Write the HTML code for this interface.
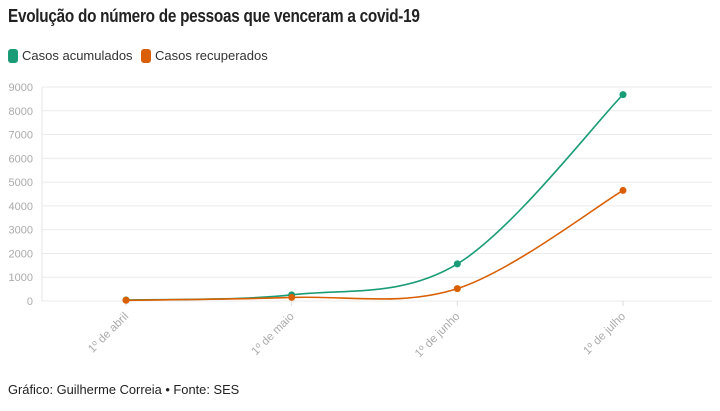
<!DOCTYPE html>
<html><head><meta charset="utf-8"><style>
body{margin:0;background:#fff;font-family:"Liberation Sans",sans-serif;}
#wrap{position:relative;width:720px;height:411px;overflow:hidden;}
h1{position:absolute;left:8px;top:6px;margin:0;font-size:18px;font-weight:bold;color:#222;letter-spacing:-0.3px;transform:scaleX(0.85);transform-origin:left;white-space:nowrap;}
.leg{position:absolute;top:48px;font-size:13px;color:#333;display:flex;align-items:center;}
.sw{width:10px;height:14px;border-radius:3px;margin-right:4px;display:inline-block;}
.foot{position:absolute;left:8px;top:382px;font-size:13px;color:#222;transform:scaleX(0.99);transform-origin:left;white-space:nowrap;}
</style></head><body>
<div id="wrap">
<h1>Evolução do número de pessoas que venceram a covid-19</h1>
<div class="leg" style="left:8px"><span class="sw" style="background:#1a9c77"></span>Casos acumulados</div>
<div class="leg" style="left:141px"><span class="sw" style="background:#d95f02"></span>Casos recuperados</div>
<svg id="chart" width="720" height="411" style="position:absolute;left:0;top:0"></svg>
<div class="foot">Gráfico: Guilherme Correia • Fonte: SES</div>
</div>
<script>
const categories=["1º de abril","1º de maio","1º de junho","1º de julho"];
const acumulados=[40,260,1560,8680];
const recuperados=[30,150,520,4650];
const yTicks=[0,1000,2000,3000,4000,5000,6000,7000,8000,9000];
const svg=document.getElementById('chart');
const NS="http://www.w3.org/2000/svg";
const x0=42,x1=712,yBase=301,yTop=87,yMax=9000;
const xs=i=>126+i*(623-126)/(categories.length-1);
const ys=v=>yBase-(v/yMax)*(yBase-yTop);
function mk(t,a){const e=document.createElementNS(NS,t);for(const k in a)e.setAttribute(k,a[k]);svg.appendChild(e);return e;}
yTicks.forEach(t=>{
 const l=mk('line',{x1:x0,x2:x1,y1:ys(t),y2:ys(t),stroke:'#ebebeb','stroke-width':1});
 
 
 const tx=mk('text',{x:33,y:ys(t)+4,'text-anchor':'end','font-size':11,fill:'#aaa'});
 tx.textContent=t;
 
 
});
const ax=mk('line',{x1:x0,x2:x0,y1:yTop,y2:yBase,stroke:'#e6e6e6'});


categories.forEach((c,i)=>{
 const tk=mk('line',{x1:xs(i),x2:xs(i),y1:yBase,y2:yBase+5,stroke:'#ddd'});
 
 
 const t=mk('text',{x:xs(i)+3,y:yBase+16,'text-anchor':'end','font-size':11.5,fill:'#aaa',transform:`rotate(-45 ${xs(i)+3} ${yBase+16})`});
 t.textContent=c;
 
 
});
function pathFor(vals){
 const p=vals.map((v,i)=>[xs(i),ys(v)]);
 let d=`M${p[0][0]},${p[0][1]}`;
 for(let i=0;i<p.length-1;i++){
  const a=p[i-1]||p[i],b=p[i],c=p[i+1],e=p[i+2]||c;
  const c1=[b[0]+(c[0]-a[0])/6,b[1]+(c[1]-a[1])/6],c2=[c[0]-(e[0]-b[0])/6,c[1]-(e[1]-b[1])/6];
  d+=`C${c1[0]},${c1[1]} ${c2[0]},${c2[1]} ${c[0]},${c[1]}`;
 }
 return d;
}
[[acumulados,'#1a9c77','acumulados'],[recuperados,'#d95f02','recuperados']].forEach(([vals,col,nm])=>{
 const p=mk('path',{d:pathFor(vals),fill:'none',stroke:col,'stroke-width':1.6});
 
 
 vals.forEach((v,i)=>{
  const c=mk('circle',{cx:xs(i),cy:ys(v),r:3.5,fill:col});
  
  
 });
});
</script>
</body></html>
